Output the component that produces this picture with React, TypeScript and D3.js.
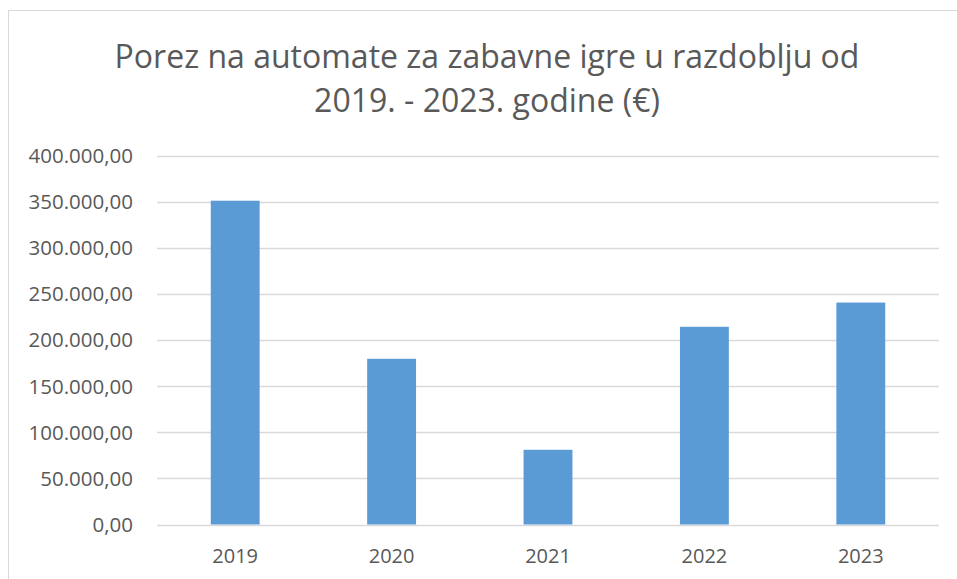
import React from "react";
import * as d3 from "d3";

const years = ["2019", "2020", "2021", "2022", "2023"];
const values = [351000, 179600, 81000, 214300, 240600];
const yTicks = [0, 50000, 100000, 150000, 200000, 250000, 300000, 350000, 400000];
const titleLines = ["Porez na automate za zabavne igre u razdoblju od", "2019. - 2023. godine (€)"];

const W = 957;
const H = 579;
const plot = { left: 157, right: 939, top: 155.5, bottom: 524.5 };
const FONT = "'Open Sans', sans-serif";
const TEXT = "#595959";
const GRID = "#D9D9D9";
const BAR = "#5B9BD5";

const fmt = (v: number) => {
  const s = d3.format(",.2f")(v);
  return s.replace(/,/g, "X").replace(/\./g, ",").replace(/X/g, ".");
};

export default function App() {
  const x = d3.scaleBand().domain(years).range([plot.left, plot.right]).paddingInner(0.6875).paddingOuter(0.34375);
  const y = d3.scaleLinear().domain([0, 400000]).range([plot.bottom, plot.top]);
  return (
    <svg width={W} height={H} style={{ position: "absolute", left: 0, top: 0, background: "#fff" }}>
      <rect x={8.5} y={10.5} width={1000} height={1000} fill="#fff" stroke={GRID} strokeWidth={1} />
      {titleLines.map((t, i) => (
        <text key={i} x={487} y={68 + i * 44} textAnchor="middle" fontFamily={FONT} fontSize={32} fill={TEXT}>
          {t}
        </text>
      ))}
      {yTicks.map((t) => (
        <g key={t}>
          <line x1={plot.left} x2={plot.right} y1={Math.round(y(t)) + 0.5} y2={Math.round(y(t)) + 0.5} stroke={GRID} strokeWidth={1.5} />
          <text x={133} y={y(t)} dy="0.36em" textAnchor="end" fontFamily={FONT} fontSize={20.5} fill={TEXT}>
            {fmt(t)}
          </text>
        </g>
      ))}
      {years.map((yr, i) => (
        <rect key={yr} x={x(yr)} y={y(values[i])} width={x.bandwidth()} height={y(0) - y(values[i])} fill={BAR} />
      ))}
      {years.map((yr) => (
        <text key={yr} x={(x(yr) as number) + x.bandwidth() / 2} y={563} textAnchor="middle" fontFamily={FONT} fontSize={20} fill={TEXT}>
          {yr}
        </text>
      ))}
    </svg>
  );
}
